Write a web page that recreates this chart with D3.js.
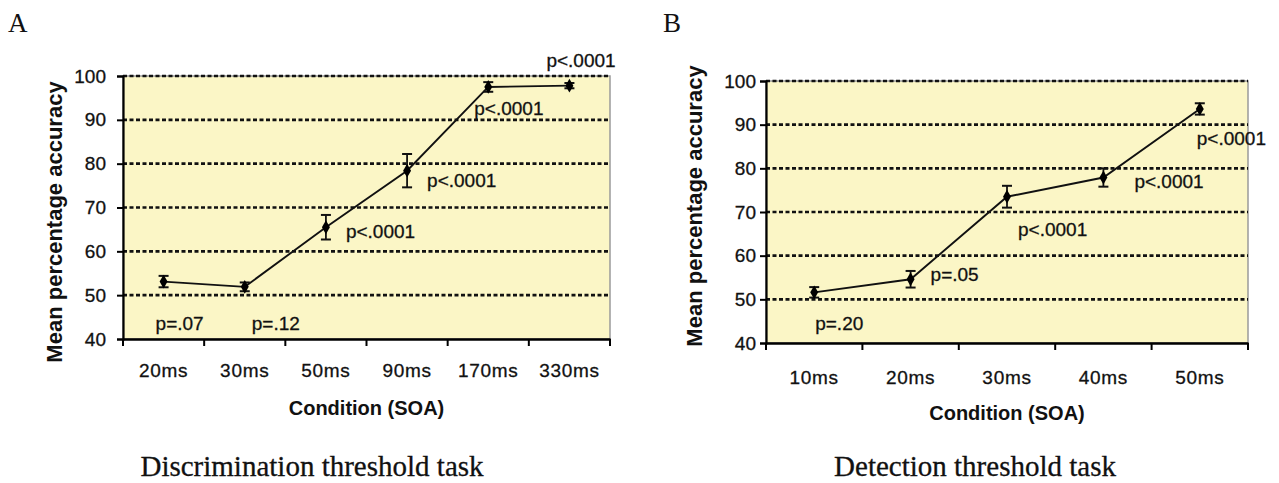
<html>
<head>
<style>
  body { margin: 0; background: #fff; }
  text { font-family: "Liberation Sans", Arial, sans-serif; fill: #111; }
  .serif { font-family: "Liberation Serif", "Times New Roman", serif; }
</style>
</head>
<body>
<svg width="1279" height="483"></svg>
<script src="https://d3js.org/d3.v7.min.js"></script>
<script>
// values
var catsA = ["20ms", "30ms", "50ms", "90ms", "170ms", "330ms"];
var meanA = [53.1, 51.9, 65.5, 78.4, 97.5, 97.8];
var errA  = [1.3, 1.0, 2.8, 3.8, 1.1, 0.6];
var pA    = ["p=.07", "p=.12", "p<.0001", "p<.0001", "p<.0001", "p<.0001"];

var catsB = ["10ms", "20ms", "30ms", "40ms", "50ms"];
var meanB = [51.6, 54.6, 73.5, 77.9, 93.6];
var errB  = [1.2, 1.9, 2.5, 2.1, 1.3];
var pB    = ["p=.20", "p=.05", "p<.0001", "p<.0001", "p<.0001"];

var yTicks = [40, 50, 60, 70, 80, 90, 100];
var yTitle = "Mean percentage accuracy";
var xTitle = "Condition (SOA)";

var svg = d3.select("svg");

// layout for each panel
var panels = [
  { letter: "A", caption: "Discrimination threshold task",
    cats: catsA, mean: meanA, err: errA, p: pA,
    x0: 123, x1: 610, y0: 76, y1: 339, letterX: 8, captionX: 312,
    ytX: 62, ytY: 222, ylabX: 106, xlabY: 377, xtY: 415,
    // p-label offsets from the point [dx, dy]
    pOff: [[-8, 48], [7, 43], [20, 11], [20, 16], [-14, 28], [-23, -19]] },
  { letter: "B", caption: "Detection threshold task",
    cats: catsB, mean: meanB, err: errB, p: pB,
    x0: 766, x1: 1248, y0: 81, y1: 343, letterX: 663, captionX: 975,
    ytX: 702, ytY: 206, ylabX: 756, xlabY: 384, xtY: 420,
    pOff: [[1, 38], [20, 2], [11, 39], [31, 10], [-3, 36]] }
];

panels.forEach(function(c) {
  var g = svg.append("g");

  var x = d3.scaleBand().domain(c.cats).range([c.x0, c.x1]);
  var y = d3.scaleLinear().domain([40, 100]).range([c.y1, c.y0]);

  // plot area
  g.append("rect")
    .attr("x", c.x0).attr("y", c.y0)
    .attr("width", c.x1 - c.x0).attr("height", c.y1 - c.y0)
    .style("fill", "#fbf6c6").style("stroke", "#9a9a9a").style("stroke-width", 1.5);

  // grid lines
  g.selectAll(".grid").data(yTicks.filter(function(t) { return t > 40; }))
    .enter().append("line")
    .attr("x1", c.x0).attr("x2", c.x1)
    .attr("y1", function(d) { return y(d); }).attr("y2", function(d) { return y(d); })
    .style("stroke", "#111").style("stroke-width", 2.6)
    .style("stroke-dasharray", "4,2.5");

  // y axis
  var ya = g.append("g").attr("transform", "translate(" + c.x0 + ",0)")
    .call(d3.axisLeft(y).tickValues(yTicks).tickSize(6).tickPadding(c.x0 - c.ylabX - 6));
  ya.select(".domain").style("stroke", "#000").style("stroke-width", 2.2);
  ya.selectAll(".tick line").style("stroke", "#000").style("stroke-width", 2);
  ya.selectAll("text").style("font-size", "19px").style("fill", "#111")
    .style("font-family", "'Liberation Sans', Arial, sans-serif")
    .style("stroke", "#111").style("stroke-width", 0.3);

  // x axis: ticks between categories
  var xa = g.append("g").attr("transform", "translate(0," + c.y1 + ")")
    .call(d3.axisBottom(x).tickSize(0).tickFormat(""));
  xa.select(".domain").style("stroke", "#000").style("stroke-width", 2.5);
  var bounds = c.cats.map(function(d) { return x(d); }).concat([c.x1]);
  g.selectAll(".xtick").data(bounds).enter().append("line")
    .attr("x1", function(d) { return d; }).attr("x2", function(d) { return d; })
    .attr("y1", c.y1).attr("y2", c.y1 + 7)
    .style("stroke", "#000").style("stroke-width", 2);

  g.selectAll(".xlab").data(c.cats).enter().append("text")
    .attr("x", function(d) { return x(d) + x.bandwidth() / 2; })
    .attr("y", c.xlabY)
    .attr("text-anchor", "middle")
    .style("font-size", "19px").style("letter-spacing", "0.7px")
    .style("stroke", "#111").style("stroke-width", 0.3)
    .text(function(d) { return d; });

  // axis titles
  g.append("text")
    .attr("x", (c.x0 + c.x1) / 2).attr("y", c.xtY)
    .attr("text-anchor", "middle")
    .style("font-size", "20px").style("font-weight", "bold")
    .text(xTitle);
  g.append("text")
    .attr("transform", "translate(" + c.ytX + "," + c.ytY + ") rotate(-90)")
    .attr("text-anchor", "middle")
    .style("font-size", "22px").style("font-weight", "bold")
    .text(yTitle);

  // series
  var pts = c.cats.map(function(d, i) {
    return { cat: d, m: c.mean[i], e: c.err[i], p: c.p[i], off: c.pOff[i],
             cx: x(d) + x.bandwidth() / 2 };
  });

  g.append("path").datum(pts)
    .attr("d", d3.line().x(function(d) { return d.cx; }).y(function(d) { return y(d.m); }))
    .style("fill", "none").style("stroke", "#111").style("stroke-width", 1.9);

  var eb = g.selectAll(".eb").data(pts).enter().append("g");
  eb.append("line")
    .attr("x1", function(d) { return d.cx; }).attr("x2", function(d) { return d.cx; })
    .attr("y1", function(d) { return y(d.m - d.e); }).attr("y2", function(d) { return y(d.m + d.e); })
    .style("stroke", "#111").style("stroke-width", 1.8);
  [-1, 1].forEach(function(s) {
    eb.append("line")
      .attr("x1", function(d) { return d.cx - 5; }).attr("x2", function(d) { return d.cx + 5; })
      .attr("y1", function(d) { return y(d.m + s * d.e); }).attr("y2", function(d) { return y(d.m + s * d.e); })
      .style("stroke", "#111").style("stroke-width", 2);
  });
  eb.append("path")
    .attr("d", d3.symbol().type(d3.symbolDiamond).size(55))
    .attr("transform", function(d) { return "translate(" + d.cx + "," + y(d.m) + ")"; })
    .style("fill", "#000");

  // p values
  g.selectAll(".plab").data(pts).enter().append("text")
    .attr("x", function(d) { return d.cx + d.off[0]; })
    .attr("y", function(d) { return y(d.m) + d.off[1]; })
    .style("font-size", "19px")
    .style("stroke", "#111").style("stroke-width", 0.3)
    .text(function(d) { return d.p; });

  // panel letter and caption
  g.append("text").attr("class", "serif")
    .attr("x", c.letterX).attr("y", 32)
    .style("font-size", "27px")
    .text(c.letter);
  g.append("text").attr("class", "serif")
    .attr("x", c.captionX).attr("y", 476)
    .attr("text-anchor", "middle")
    .style("font-size", "29px")
    .style("stroke", "#111").style("stroke-width", 0.3)
    .text(c.caption);
});
</script>
</body>
</html>
